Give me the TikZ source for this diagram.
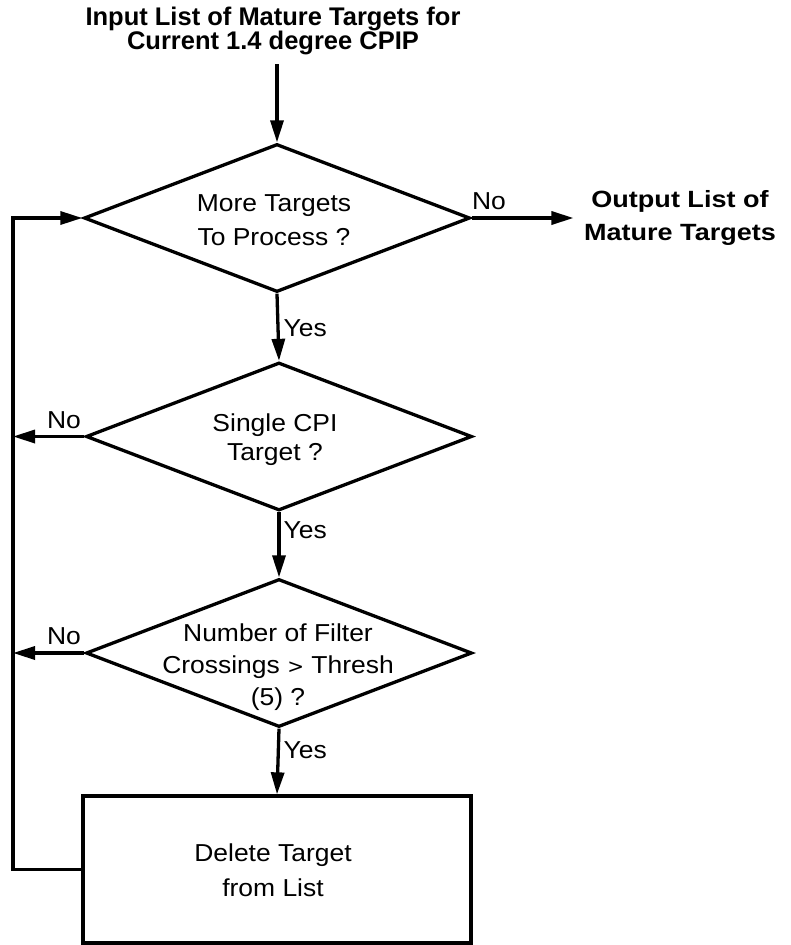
\documentclass[tikz,border=0pt]{standalone}
\usepackage{fontspec}
\setmainfont{Liberation Sans}
\newfontfamily\bodyfont[FakeStretch=1.08]{Liberation Sans}
\newfontfamily\outfont[FakeStretch=1.15]{Liberation Sans}
\usetikzlibrary{shapes.geometric,arrows.meta}
\begin{document}
\begin{tikzpicture}[x=1pt,y=-1pt,line width=3.3pt,
  arr/.style={-{Triangle[length=22pt,width=13pt]}},
  dec/.style={diamond,draw,minimum width=386pt,minimum height=148pt,inner sep=0pt},
  procbox/.style={rectangle,draw,minimum width=388pt,minimum height=147pt,inner sep=0pt},
  btxt/.style={align=center,inner sep=0pt,font=\bodyfont\fontsize{24.5}{#1}\selectfont},
  lbl/.style={inner sep=0pt,font=\bodyfont\fontsize{24.5}{28}\selectfont},
  ttl/.style={align=center,inner sep=0pt,font=\bfseries\fontsize{25.5}{23}\selectfont},
  outtxt/.style={align=center,inner sep=0pt,font=\outfont\bfseries\fontsize{23.5}{33}\selectfont}]
\useasboundingbox (0,0) rectangle (791,945);
% title
\node[ttl] (title) at (273,31) {Input List of Mature Targets for\\Current 1.4 degree CPIP};
% decisions and process
\node[dec] (d1) at (277,218) {};
\node[btxt=34] (t1) at (274,220) {More Targets\\To Process ?};
\node[dec] (d2) at (279,436.5) {};
\node[btxt=29] (t2) at (275,440) {Single CPI\\Target ?};
\node[dec] (d3) at (279,653) {};
\node[btxt=32] (t3) at (278,667) {Number of Filter\\Crossings {\fontspec{DejaVu Sans}\fontsize{20}{20}\selectfont>} Thresh\\(5) ?};
\node[procbox] (rect) at (277,869.5) {};
\node[btxt=35] (t4) at (273,870) {Delete Target\\from List};
% output
\node[outtxt] (out) at (680,218) {Output List of\\Mature Targets};
% loop column
\coordinate (loopx) at (13,0);
% connectors
\draw[arr] ([yshift=-7pt]title.south -| d1.north) -- (d1.north);
\draw[arr] (d1.south) -- (d2.north);
\draw[arr] (d2.south) -- (d3.north);
\draw[arr] (d3.south) -- (rect.north);
\draw[arr] (d1.east) -- ([xshift=-9pt]out.west);
\draw[arr] (d2.west) -- (d2.west -| loopx);
\draw[arr] (d3.west) -- (d3.west -| loopx);
\draw[arr] (rect.west) -- (rect.west -| loopx) -- (loopx |- d1.west) -- (d1.west);
% labels
\node[lbl,anchor=west] (y1) at (282,328) {Yes};
\node[lbl,anchor=west] (y2) at (282,530) {Yes};
\node[lbl,anchor=west] (y3) at (282,750) {Yes};
\node[lbl] (n1) at (489,201) {No};
\node[lbl] (n2) at (64,420) {No};
\node[lbl] (n3) at (64,636) {No};
\end{tikzpicture}
\end{document}
